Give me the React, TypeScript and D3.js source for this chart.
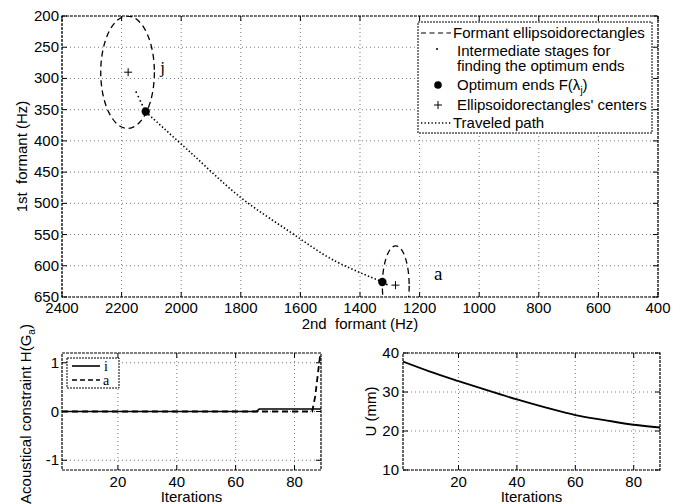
import React from "react";
import * as d3 from "d3";

// ---------- data ----------
const topXTicks = [2400, 2200, 2000, 1800, 1600, 1400, 1200, 1000, 800, 600, 400];
const topYTicks = [200, 250, 300, 350, 400, 450, 500, 550, 600, 650];

const ellipseLabels = ["j", "a"];
const ellipseCenterF2 = [2180, 1280];
const ellipseCenterF1 = [290, 632];
const ellipseRadiusF2 = [90, 45];
const ellipseRadiusF1 = [90, 64];
const labelF2 = [2070, 1152];
const labelF1 = [282, 612];

const centerPlusF2 = [2178, 1281];
const centerPlusF1 = [290, 631];

const optimumF2 = [2119, 1325];
const optimumF1 = [353, 626];

const intermediateF2 = [2151, 2144, 2137, 2131, 2125, 1316, 1310];
const intermediateF1 = [322, 329, 336, 342, 348, 628, 630];

const pathF2 = [2118, 1970, 1802, 1634, 1489, 1324];
const pathF1 = [354, 418, 490, 546, 591, 626];

const iterTicks = [20, 40, 60, 80];
const hTicks = [-1, 0, 1];
const hIterI = [1, 67, 68, 89];
const hValI = [0, 0, 0.05, 0.05];
const hIterA = [1, 86, 87, 88, 89];
const hValA = [0, 0, 0.3, 0.8, 1.3];

const uTicks = [10, 20, 30, 40];
const uIter = [1, 10, 20, 30, 40, 50, 60, 70, 80, 89];
const uVal = [37.8, 35.3, 32.8, 30.4, 28.1, 26.0, 24.1, 22.8, 21.6, 20.9];

// ---------- styles ----------
const FONT = "'Liberation Sans', Arial, Helvetica, sans-serif";
const SERIF = "'Liberation Serif', 'Times New Roman', serif";
const FS = 15;
const gridStyle = { stroke: "#555", strokeWidth: 0.8, strokeDasharray: "1,3" };
const frameStyle = { stroke: "#000", strokeWidth: 1.2, strokeDasharray: "3,1", fill: "none" };

type Box = { l: number; r: number; t: number; b: number };

function Frame({ box, xs, ys, x, y }: any) {
  const tl = 5;
  return (
    <g>
      {xs.map((v: number) => (
        <g key={"gx" + v}>
          <line x1={x(v)} x2={x(v)} y1={box.t} y2={box.b} style={gridStyle} />
          <line x1={x(v)} x2={x(v)} y1={box.b} y2={box.b - tl} stroke="#000" />
          <line x1={x(v)} x2={x(v)} y1={box.t} y2={box.t + tl} stroke="#000" />
        </g>
      ))}
      {ys.map((v: number) => (
        <g key={"gy" + v}>
          <line x1={box.l} x2={box.r} y1={y(v)} y2={y(v)} style={gridStyle} />
          <line x1={box.l} x2={box.l + tl} y1={y(v)} y2={y(v)} stroke="#000" />
          <line x1={box.r} x2={box.r - tl} y1={y(v)} y2={y(v)} stroke="#000" />
        </g>
      ))}
    </g>
  );
}

export default function App() {
  // top plot
  const T: Box = { l: 62, r: 658, t: 16, b: 297 };
  const x = d3.scaleLinear().domain([2400, 400]).range([T.l, T.r]);
  const y = d3.scaleLinear().domain([200, 650]).range([T.t, T.b]);

  const pathPts = pathF2.map((f, i) => [x(f), y(pathF1[i])] as [number, number]);
  const travel = d3.line().curve(d3.curveCatmullRom.alpha(0.5))(pathPts) || "";

  // bottom-left
  const L: Box = { l: 62, r: 321, t: 353, b: 470 };
  const xl = d3.scaleLinear().domain([1, 89]).range([L.l, L.r]);
  const yl = d3.scaleLinear().domain([-1.2, 1.2]).range([L.b, L.t]);
  const lineL = d3.line<[number, number]>().x((d) => xl(d[0])).y((d) => yl(d[1]));
  const pathI = lineL(hIterI.map((v, i) => [v, hValI[i]])) || "";
  const pathA = lineL(hIterA.map((v, i) => [v, hValA[i]])) || "";

  // bottom-right
  const R: Box = { l: 403, r: 660, t: 353, b: 470 };
  const xr = d3.scaleLinear().domain([1, 89]).range([R.l, R.r]);
  const yr = d3.scaleLinear().domain([10, 40]).range([R.b, R.t]);
  const lineU = d3
    .line<[number, number]>()
    .x((d) => xr(d[0]))
    .y((d) => yr(d[1]))
    .curve(d3.curveMonotoneX);
  const pathU = lineU(uIter.map((v, i) => [v, uVal[i]])) || "";

  // legend (top)
  const LG = { l: 418, r: 652, t: 22, b: 133 };
  const rows = [33, 51, 66, 85, 105, 123];

  return (
    <svg
      width={684}
      height={504}
      style={{ position: "absolute", left: 0, top: 0, background: "#fff" }}
      fontFamily={FONT}
    >
      <defs>
        <clipPath id="clipT">
          <rect x={T.l} y={T.t} width={T.r - T.l} height={T.b - T.t} />
        </clipPath>
        <clipPath id="clipL">
          <rect x={L.l} y={L.t} width={L.r - L.l} height={L.b - L.t} />
        </clipPath>
        <clipPath id="clipR">
          <rect x={R.l} y={R.t} width={R.r - R.l} height={R.b - R.t} />
        </clipPath>
      </defs>
      <rect x={0} y={0} width={684} height={504} fill="#fff" />

      {/* ===== top plot ===== */}
      <Frame box={T} xs={topXTicks} ys={topYTicks} x={x} y={y} />
      <g clipPath="url(#clipT)">
        {ellipseCenterF2.map((c, i) => (
          <ellipse
            key={"el" + i}
            cx={x(c)}
            cy={y(ellipseCenterF1[i])}
            rx={Math.abs(x(c + ellipseRadiusF2[i]) - x(c))}
            ry={Math.abs(y(ellipseCenterF1[i] + ellipseRadiusF1[i]) - y(ellipseCenterF1[i]))}
            fill="none"
            stroke="#000"
            strokeWidth={1.3}
            strokeDasharray="6,4"
          />
        ))}
        <path d={travel} fill="none" stroke="#000" strokeWidth={1.6} strokeDasharray="1.4,2.2" />
        {intermediateF2.map((f, i) => (
          <circle key={"in" + i} cx={x(f)} cy={y(intermediateF1[i])} r={0.9} fill="#000" />
        ))}
        {optimumF2.map((f, i) => (
          <circle key={"op" + i} cx={x(f)} cy={y(optimumF1[i])} r={4.2} fill="#000" />
        ))}
        {centerPlusF2.map((f, i) => {
          const cx = x(f);
          const cy = y(centerPlusF1[i]);
          return (
            <g key={"pl" + i} stroke="#000" strokeWidth={1}>
              <line x1={cx - 4} x2={cx + 4} y1={cy} y2={cy} />
              <line x1={cx} x2={cx} y1={cy - 4} y2={cy + 4} />
            </g>
          );
        })}
      </g>
      {ellipseLabels.map((t, i) => (
        <text
          key={"lb" + i}
          x={x(labelF2[i])}
          y={y(labelF1[i])}
          fontFamily={SERIF}
          fontSize={i === 0 ? 17 : 19}
          dominantBaseline="central"
        >
          {t}
        </text>
      ))}
      <rect x={T.l} y={T.t} width={T.r - T.l} height={T.b - T.t} style={frameStyle} />
      {topXTicks.map((v) => (
        <text key={"tx" + v} x={x(v)} y={313} fontSize={FS} textAnchor="middle">
          {v}
        </text>
      ))}
      {topYTicks.map((v) => (
        <text key={"ty" + v} x={59} y={y(v) + 5} fontSize={FS} textAnchor="end">
          {v}
        </text>
      ))}
      <text x={(T.l + T.r) / 2} y={329} fontSize={FS} textAnchor="middle" xmlSpace="preserve">
        {"2nd  formant (Hz)"}
      </text>
      <text
        transform={`translate(27,${(T.t + T.b) / 2}) rotate(-90)`}
        fontSize={FS}
        textAnchor="middle"
        xmlSpace="preserve"
      >
        {"1st  formant (Hz)"}
      </text>

      {/* legend top */}
      <rect
        x={LG.l}
        y={LG.t}
        width={LG.r - LG.l}
        height={LG.b - LG.t}
        fill="#fff"
        stroke="#000"
        strokeWidth={1}
        strokeDasharray="2,1"
      />
      <line x1={421} x2={451} y1={rows[0]} y2={rows[0]} stroke="#000" strokeWidth={1.2} strokeDasharray="5,3.5" />
      <text x={453} y={rows[0] + 5} fontSize={FS}>Formant ellipsoidorectangles</text>
      <circle cx={437} cy={rows[1] - 2} r={1} fill="#000" />
      <text x={457} y={rows[1] + 5} fontSize={FS}>Intermediate stages for</text>
      <text x={457} y={rows[2] + 5} fontSize={FS}>finding the optimum ends</text>
      <circle cx={438} cy={rows[3]} r={3.8} fill="#000" />
      <text x={457} y={rows[3] + 5} fontSize={FS}>
        Optimum ends F(λ
        <tspan fontSize={10} dy={4}>j</tspan>
        <tspan dy={-4}>)</tspan>
      </text>
      <g stroke="#000" strokeWidth={1}>
        <line x1={434} x2={442} y1={rows[4]} y2={rows[4]} />
        <line x1={438} x2={438} y1={rows[4] - 4} y2={rows[4] + 4} />
      </g>
      <text x={457} y={rows[4] + 5} fontSize={FS}>Ellipsoidorectangles' centers</text>
      <line x1={421} x2={451} y1={rows[5]} y2={rows[5]} stroke="#000" strokeWidth={1.4} strokeDasharray="1.3,2.2" />
      <text x={453} y={rows[5] + 5} fontSize={FS}>Traveled path</text>

      {/* ===== bottom-left ===== */}
      <Frame box={L} xs={iterTicks} ys={hTicks} x={xl} y={yl} />
      <g clipPath="url(#clipL)">
        <path d={pathA} fill="none" stroke="#000" strokeWidth={1.8} strokeDasharray="6,4" />
        <path d={pathI} fill="none" stroke="#000" strokeWidth={1.6} />
      </g>
      <rect x={L.l} y={L.t} width={L.r - L.l} height={L.b - L.t} style={frameStyle} />
      {iterTicks.map((v) => (
        <text key={"lx" + v} x={xl(v)} y={487} fontSize={FS} textAnchor="middle">
          {v}
        </text>
      ))}
      {hTicks.map((v) => (
        <text key={"ly" + v} x={59} y={yl(v) + 5} fontSize={FS} textAnchor="end">
          {v}
        </text>
      ))}
      <text x={(L.l + L.r) / 2} y={502} fontSize={FS} textAnchor="middle">
        Iterations
      </text>
      <text transform={`translate(31,414) rotate(-90)`} fontSize={FS} textAnchor="middle">
        Acoustical constraint H(G
        <tspan fontSize={10} dy={4}>a</tspan>
        <tspan dy={-4}>)</tspan>
      </text>
      {/* legend bottom-left */}
      <rect x={67} y={358} width={52} height={30} fill="#fff" stroke="#000" strokeWidth={1} strokeDasharray="2,1" />
      <line x1={72} x2={100} y1={366} y2={366} stroke="#000" strokeWidth={1.6} />
      <text x={104} y={371} fontFamily={SERIF} fontSize={14}>i</text>
      <line x1={72} x2={100} y1={380} y2={380} stroke="#000" strokeWidth={1.6} strokeDasharray="5,3" />
      <text x={103} y={385} fontFamily={SERIF} fontSize={14}>a</text>

      {/* ===== bottom-right ===== */}
      <Frame box={R} xs={iterTicks} ys={uTicks} x={xr} y={yr} />
      <g clipPath="url(#clipR)">
        <path d={pathU} fill="none" stroke="#000" strokeWidth={1.8} />
      </g>
      <rect x={R.l} y={R.t} width={R.r - R.l} height={R.b - R.t} style={frameStyle} />
      {iterTicks.map((v) => (
        <text key={"rx" + v} x={xr(v)} y={487} fontSize={FS} textAnchor="middle">
          {v}
        </text>
      ))}
      {uTicks.map((v) => (
        <text key={"ry" + v} x={399} y={yr(v) + 5} fontSize={FS} textAnchor="end">
          {v}
        </text>
      ))}
      <text x={(R.l + R.r) / 2} y={502} fontSize={FS} textAnchor="middle">
        Iterations
      </text>
      <text transform={`translate(376,${(R.t + R.b) / 2}) rotate(-90)`} fontSize={FS} textAnchor="middle">
        U (mm)
      </text>
    </svg>
  );
}
